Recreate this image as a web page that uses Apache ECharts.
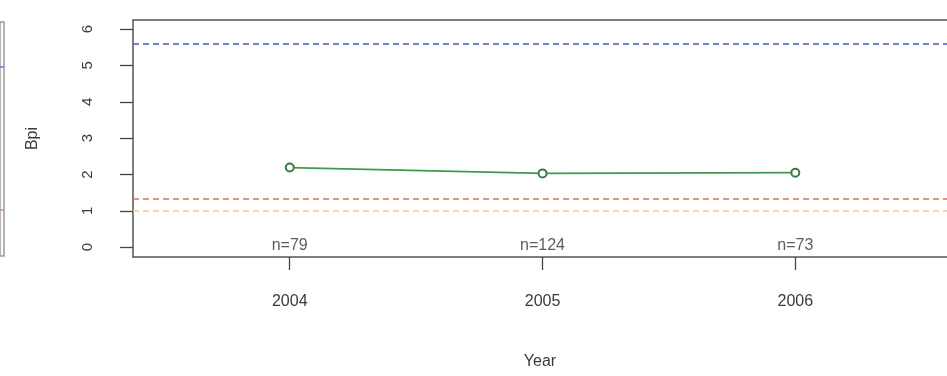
<!DOCTYPE html>
<html>
<head>
<meta charset="utf-8">
<script src="https://cdn.jsdelivr.net/npm/echarts@6/dist/echarts.min.js"></script>
<style>
  html, body { margin: 0; padding: 0; background: #ffffff; }
  #chart { width: 947px; height: 376px; }
</style>
</head>
<body>
<div id="chart"></div>
<script>
// Yearly Bpi means with sample sizes
const years = [2004, 2005, 2006];
const bpi = [2.19, 2.03, 2.05];
const nCounts = [79, 124, 73];
const yTicks = [0, 1, 2, 3, 4, 5, 6];

// Horizontal reference levels (dashed)
const refBlue = 5.59;
const refRed = 1.32;
const refOrange = 1.0;

// Neighbouring panel (only its right edge shows)
const leftPanelRefs = [5.0, 1.03];

const FONT = 'Liberation Sans, Arial, sans-serif';
const TXT = '#3a3a3a';
const FRAME = { color: '#555555', width: 1.5 };

const chart = echarts.init(document.getElementById('chart'), null, { renderer: 'canvas' });

chart.setOption({
  animation: false,
  backgroundColor: '#ffffff',
  grid: [
    // main panel: frame drawn by axis lines (left, bottom, top); it runs off the right edge
    { left: 133, top: 20, right: 0, bottom: 119, show: false },
    {
      left: -1, top: 22, width: 5, height: 234,
      show: true, borderColor: '#9a9a9a', borderWidth: 1.5, backgroundColor: 'transparent'
    }
  ],
  xAxis: [
    {
      gridIndex: 0,
      type: 'value',
      position: 'bottom',
      min: 2003.38,
      max: 2006.60,
      name: 'Year',
      nameLocation: 'middle',
      nameGap: 97,
      nameTextStyle: { fontFamily: FONT, fontSize: 16, color: TXT },
      axisLine: { show: true, onZero: false, lineStyle: FRAME },
      splitLine: { show: false },
      axisTick: {
        show: true, length: 13, inside: false,
        customValues: years,
        lineStyle: { color: '#444444', width: 1.3 }
      },
      axisLabel: {
        show: true, margin: 37,
        customValues: years,
        fontFamily: FONT, fontSize: 16, color: TXT,
        formatter: v => String(v)
      }
    },
    {
      gridIndex: 1, type: 'value', min: 0, max: 1, show: false
    },
    {
      gridIndex: 0,
      type: 'value',
      position: 'top',
      min: 2003.38,
      max: 2006.60,
      axisLine: { show: true, onZero: false, lineStyle: FRAME },
      axisTick: { show: false },
      axisLabel: { show: false },
      splitLine: { show: false }
    }
  ],
  yAxis: [
    {
      gridIndex: 0,
      type: 'value',
      position: 'left',
      min: -0.27,
      max: 6.25,
      name: 'Bpi',
      nameLocation: 'middle',
      nameGap: 92,
      nameRotate: 90,
      nameTextStyle: { fontFamily: FONT, fontSize: 16, color: TXT },
      axisLine: { show: true, onZero: false, lineStyle: FRAME },
      splitLine: { show: false },
      axisTick: {
        show: true, length: 13, inside: false,
        customValues: yTicks,
        lineStyle: { color: '#444444', width: 1.3 }
      },
      axisLabel: {
        show: true, margin: 38, rotate: 90,
        customValues: yTicks,
        fontFamily: FONT, fontSize: 15, color: TXT,
        formatter: v => String(v)
      }
    },
    {
      gridIndex: 1, type: 'value', min: -0.24, max: 6.24, show: false
    }
  ],
  series: [
    {
      name: 'Bpi',
      type: 'line',
      xAxisIndex: 0, yAxisIndex: 0,
      data: years.map((y, i) => [y, bpi[i]]),
      symbol: 'emptyCircle',
      symbolSize: 8,
      showAllSymbol: true,
      lineStyle: { color: '#3f9a4c', width: 1.6 },
      itemStyle: { color: '#3d7a45', borderWidth: 1.4 },
      z: 5,
      markLine: {
        silent: true,
        symbol: 'none',
        label: { show: false },
        data: [
          { yAxis: refBlue, lineStyle: { color: '#4656d8', type: [6, 4], width: 1.5 } },
          { yAxis: refRed, lineStyle: { color: '#d8705c', type: [6, 4], width: 1.5 } },
          { yAxis: refOrange, lineStyle: { color: '#f6c49a', type: [6, 4], width: 1.5 } }
        ]
      }
    },
    {
      name: 'n',
      type: 'scatter',
      xAxisIndex: 0, yAxisIndex: 0,
      data: years.map((y, i) => [y, 0, nCounts[i]]),
      symbolSize: 0,
      silent: true,
      label: {
        show: true,
        position: 'inside',
        offset: [0, -2],
        fontFamily: FONT, fontSize: 16, color: '#333333',
        formatter: p => 'n=' + p.value[2]
      }
    },
    {
      name: 'left panel',
      type: 'line',
      xAxisIndex: 1, yAxisIndex: 1,
      data: [],
      markLine: {
        silent: true,
        symbol: 'none',
        label: { show: false },
        data: [
          { yAxis: leftPanelRefs[0], lineStyle: { color: '#6a74d8', type: [6, 4], width: 1.5 } },
          { yAxis: leftPanelRefs[1], lineStyle: { color: '#d88a7c', type: [6, 4], width: 1.5 } }
        ]
      }
    }
  ]
});
</script>
</body>
</html>
